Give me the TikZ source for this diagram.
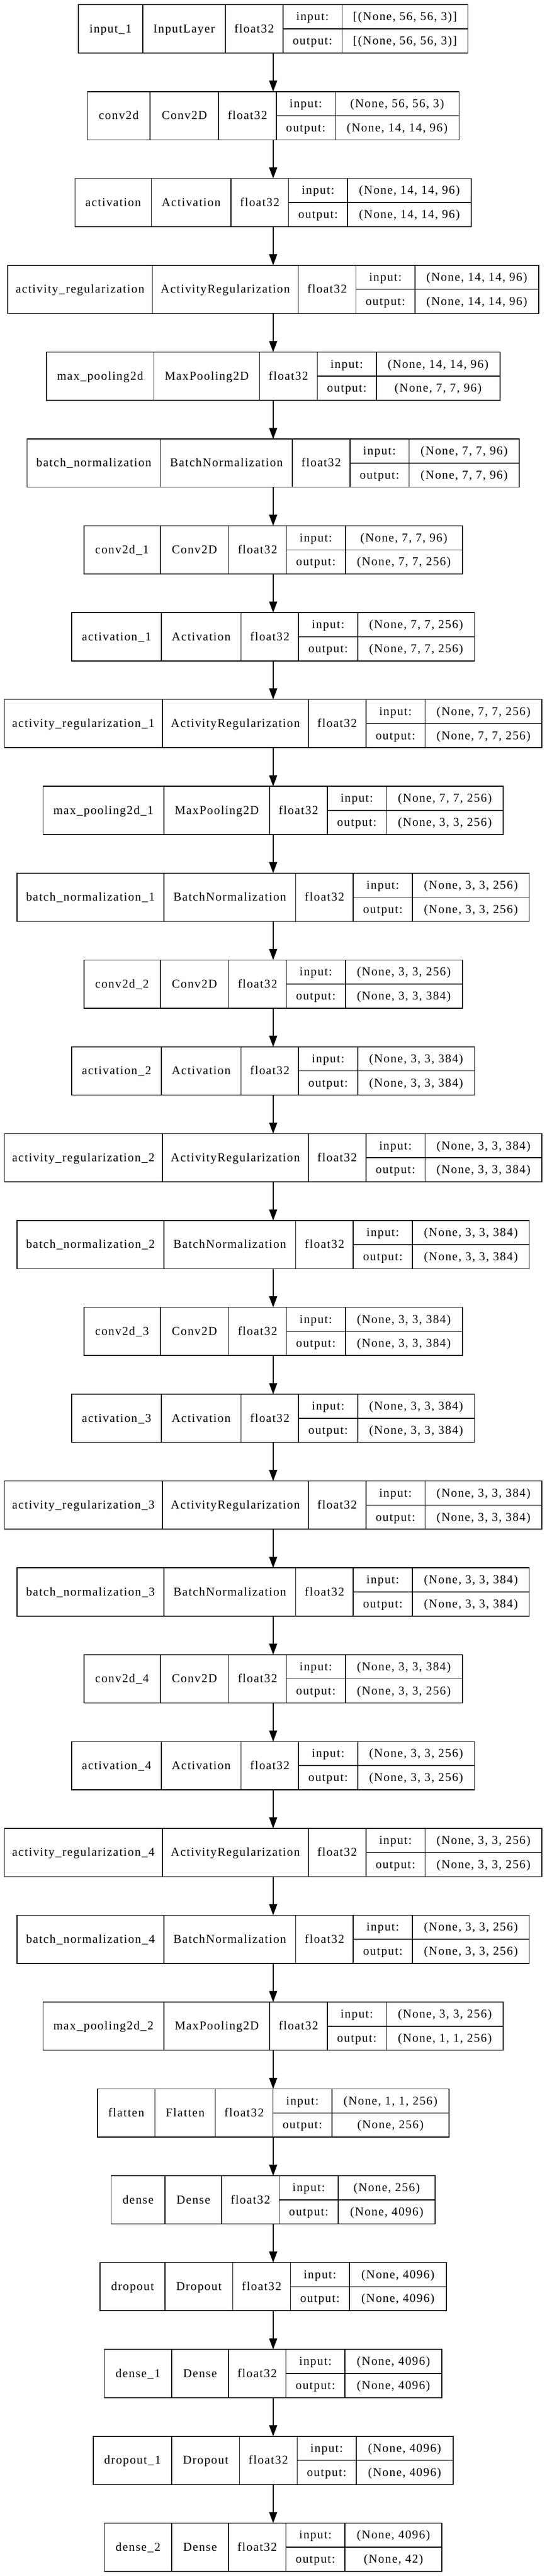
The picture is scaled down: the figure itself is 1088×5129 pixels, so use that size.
\documentclass[tikz,border=0pt]{standalone}
\usepackage{fontspec}
\newfontfamily\lfont[LetterSpace=7.3,Ligatures=CommonOff]{Liberation Serif}
\newfontfamily\mfont[Ligatures=CommonOff,Kerning=Off]{Liberation Serif}
\usetikzlibrary{arrows.meta}
\newlength\cellw
\newcommand\lfnt{\lfont\fontsize{18pt}{20pt}\selectfont}
\newcommand\mfnt{\mfont\fontsize{20pt}{22pt}\selectfont}
\newcommand\mw[1]{\pgfinterruptpicture\settowidth\cellw{\mfnt #1}\global\cellw=\cellw\endpgfinterruptpicture}
\tikzset{
 boxline/.style={draw=black, line width=1.2pt},
 cell/.style={boxline, inner sep=0pt, outer sep=0pt, text height=11pt, text depth=0pt, font=\lfnt, anchor=north west},
 layerbox/.style={boxline, inner sep=0pt, outer sep=0pt, anchor=north},
 edge/.style={line width=1.2pt, -{Triangle[length=16.5pt,width=12pt]}},
}
\newcommand\layer[6]{%
 \mw{#3}\pgfmathsetmacro\wA{\cellw/0.75+46.5}%
 \mw{#4}\pgfmathsetmacro\wB{\cellw/0.75+46}%
 \mw{float32}\pgfmathsetmacro\wC{\cellw/0.75+39}%
 \mw{output:}\pgfmathsetmacro\wD{\cellw/0.75+42}%
 \mw{#5}\pgfmathsetmacro\wEa{\cellw/0.75}%
 \mw{#6}\pgfmathsetmacro\wEb{\cellw/0.75}%
 \pgfmathsetmacro\wE{max(\wEa,\wEb)+50.5}%
 \pgfmathsetmacro\W{\wA+\wB+\wC+\wD+\wE}%
 \pgfmathsetmacro\T{9.5+#2*172.9}%
 \pgfmathsetmacro\Tb{\T+48}%
 \pgfmathsetmacro\xA{543.5-\W/2}%
 \pgfmathsetmacro\xB{\xA+\wA}%
 \pgfmathsetmacro\xC{\xB+\wB}%
 \pgfmathsetmacro\xD{\xC+\wC}%
 \pgfmathsetmacro\xE{\xD+\wD}%
 \node[layerbox, minimum width=\W*0.75pt, minimum height=72pt] (#1) at (543.5,\T) {};
 \node[cell, minimum width=\wA*0.75pt, minimum height=72pt] (#1-name) at (\xA,\T) {#3};
 \node[cell, minimum width=\wB*0.75pt, minimum height=72pt] (#1-class) at (\xB,\T) {#4};
 \node[cell, minimum width=\wC*0.75pt, minimum height=72pt] (#1-dtype) at (\xC,\T) {float32};
 \node[cell, minimum width=\wD*0.75pt, minimum height=36pt] (#1-inl) at (\xD,\T) {input:};
 \node[cell, minimum width=\wD*0.75pt, minimum height=36pt] (#1-outl) at (\xD,\Tb) {output:};
 \node[cell, minimum width=\wE*0.75pt, minimum height=36pt] (#1-ins) at (\xE,\T) {#5};
 \node[cell, minimum width=\wE*0.75pt, minimum height=36pt] (#1-outs) at (\xE,\Tb) {#6};
}
\begin{document}
\begin{tikzpicture}[x=0.75pt,y=-0.75pt]
\useasboundingbox[fill=white] (0,0) rectangle (1088,5129);
\layer{L0}{0}{input\_1}{InputLayer}{[(None, 56, 56, 3)]}{[(None, 56, 56, 3)]}
\layer{L1}{1}{conv2d}{Conv2D}{(None, 56, 56, 3)}{(None, 14, 14, 96)}
\layer{L2}{2}{activation}{Activation}{(None, 14, 14, 96)}{(None, 14, 14, 96)}
\layer{L3}{3}{activity\_regularization}{ActivityRegularization}{(None, 14, 14, 96)}{(None, 14, 14, 96)}
\layer{L4}{4}{max\_pooling2d}{MaxPooling2D}{(None, 14, 14, 96)}{(None, 7, 7, 96)}
\layer{L5}{5}{batch\_normalization}{BatchNormalization}{(None, 7, 7, 96)}{(None, 7, 7, 96)}
\layer{L6}{6}{conv2d\_1}{Conv2D}{(None, 7, 7, 96)}{(None, 7, 7, 256)}
\layer{L7}{7}{activation\_1}{Activation}{(None, 7, 7, 256)}{(None, 7, 7, 256)}
\layer{L8}{8}{activity\_regularization\_1}{ActivityRegularization}{(None, 7, 7, 256)}{(None, 7, 7, 256)}
\layer{L9}{9}{max\_pooling2d\_1}{MaxPooling2D}{(None, 7, 7, 256)}{(None, 3, 3, 256)}
\layer{L10}{10}{batch\_normalization\_1}{BatchNormalization}{(None, 3, 3, 256)}{(None, 3, 3, 256)}
\layer{L11}{11}{conv2d\_2}{Conv2D}{(None, 3, 3, 256)}{(None, 3, 3, 384)}
\layer{L12}{12}{activation\_2}{Activation}{(None, 3, 3, 384)}{(None, 3, 3, 384)}
\layer{L13}{13}{activity\_regularization\_2}{ActivityRegularization}{(None, 3, 3, 384)}{(None, 3, 3, 384)}
\layer{L14}{14}{batch\_normalization\_2}{BatchNormalization}{(None, 3, 3, 384)}{(None, 3, 3, 384)}
\layer{L15}{15}{conv2d\_3}{Conv2D}{(None, 3, 3, 384)}{(None, 3, 3, 384)}
\layer{L16}{16}{activation\_3}{Activation}{(None, 3, 3, 384)}{(None, 3, 3, 384)}
\layer{L17}{17}{activity\_regularization\_3}{ActivityRegularization}{(None, 3, 3, 384)}{(None, 3, 3, 384)}
\layer{L18}{18}{batch\_normalization\_3}{BatchNormalization}{(None, 3, 3, 384)}{(None, 3, 3, 384)}
\layer{L19}{19}{conv2d\_4}{Conv2D}{(None, 3, 3, 384)}{(None, 3, 3, 256)}
\layer{L20}{20}{activation\_4}{Activation}{(None, 3, 3, 256)}{(None, 3, 3, 256)}
\layer{L21}{21}{activity\_regularization\_4}{ActivityRegularization}{(None, 3, 3, 256)}{(None, 3, 3, 256)}
\layer{L22}{22}{batch\_normalization\_4}{BatchNormalization}{(None, 3, 3, 256)}{(None, 3, 3, 256)}
\layer{L23}{23}{max\_pooling2d\_2}{MaxPooling2D}{(None, 3, 3, 256)}{(None, 1, 1, 256)}
\layer{L24}{24}{flatten}{Flatten}{(None, 1, 1, 256)}{(None, 256)}
\layer{L25}{25}{dense}{Dense}{(None, 256)}{(None, 4096)}
\layer{L26}{26}{dropout}{Dropout}{(None, 4096)}{(None, 4096)}
\layer{L27}{27}{dense\_1}{Dense}{(None, 4096)}{(None, 4096)}
\layer{L28}{28}{dropout\_1}{Dropout}{(None, 4096)}{(None, 4096)}
\layer{L29}{29}{dense\_2}{Dense}{(None, 4096)}{(None, 42)}
\foreach \a/\b in {0/1,1/2,2/3,3/4,4/5,5/6,6/7,7/8,8/9,9/10,10/11,11/12,12/13,13/14,14/15,15/16,16/17,17/18,18/19,19/20,20/21,21/22,22/23,23/24,24/25,25/26,26/27,27/28,28/29}
  \draw[edge] (L\a.south) -- (L\b.north);
\end{tikzpicture}
\end{document}
